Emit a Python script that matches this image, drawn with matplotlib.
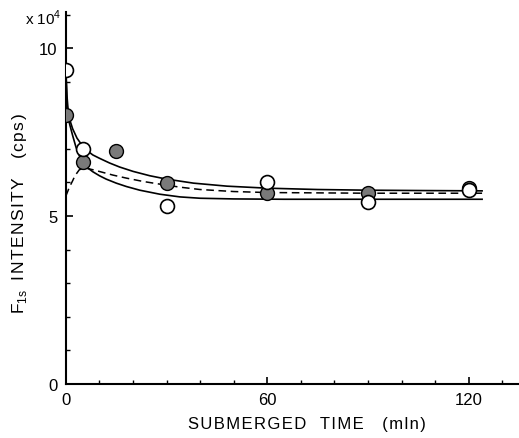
import matplotlib
matplotlib.use("Agg")
import matplotlib.pyplot as plt
from matplotlib.ticker import MultipleLocator

plt.rcParams['font.family'] = ['Liberation Sans', 'DejaVu Sans']

# measured points (x 10^4 cps)
open_t = [0, 5, 30, 60, 90, 120]
open_y = [9.35, 7.0, 5.3, 6.0, 5.42, 5.77]
filled_t = [0, 5, 15, 30, 60, 90, 120]
filled_y = [8.0, 6.6, 6.95, 5.98, 5.7, 5.68, 5.85]

# curves
upper_t = [0, 0.3, 0.7, 1.2, 2, 3.3, 4.5, 6.3, 8, 10, 13, 16, 20, 25, 30, 38, 48, 60, 75, 90, 105, 124]
upper_y = [9.3, 8.6, 8.1, 7.85, 7.6, 7.32, 7.15, 6.95, 6.82, 6.72, 6.58, 6.46, 6.33, 6.2, 6.1, 5.98, 5.89,
           5.83, 5.79, 5.77, 5.76, 5.75]
lower_t = [0, 0.3, 0.6, 1.2, 2, 3, 4, 5, 6.3, 8, 10, 12, 15, 18, 22, 28, 34, 40, 50, 65, 85, 105, 124]
lower_y = [9.3, 8.4, 7.95, 7.7, 7.4, 7.05, 6.8, 6.6, 6.45, 6.32, 6.2, 6.1, 5.98, 5.88, 5.77, 5.65,
           5.57, 5.53, 5.51, 5.5, 5.5, 5.5, 5.5]
dash_t = [0, 1, 2, 2.7, 4, 5.7, 8, 11, 14, 18, 23, 28, 34, 40, 50, 60, 75, 90, 105, 124]
dash_y = [5.6, 5.85, 6.05, 6.2, 6.38, 6.43, 6.38, 6.3, 6.22, 6.13, 6.03, 5.95, 5.86, 5.79, 5.73,
          5.7, 5.69, 5.68, 5.68, 5.68]


def track(s):
    # slightly wider letter spacing like the original lettering
    return '\u200a'.join(s)


fig = plt.figure(figsize=(5.19, 4.39), dpi=100)
ax = fig.add_axes([0.127, 0.123, 0.873, 0.847])

ax.plot(upper_t, upper_y, color='black', lw=1.2)
ax.plot(lower_t, lower_y, color='black', lw=1.2)
ax.plot(dash_t, dash_y, color='black', lw=1.1, linestyle=(0, (5, 3)))

ax.plot(filled_t, filled_y, 'o', ms=10, mfc='#7a7a7a', mec='black', mew=1.0, zorder=3)
ax.plot(open_t, open_y, 'o', ms=10, mfc='white', mec='black', mew=1.2, zorder=4)

ax.set_xlim(0, 135)
ax.set_ylim(0, 11.07)
ax.spines['top'].set_visible(False)
ax.spines['right'].set_visible(False)
ax.spines['left'].set_linewidth(1.5)
ax.spines['bottom'].set_linewidth(1.5)

ax.set_xticks([0, 60, 120])
ax.xaxis.set_minor_locator(MultipleLocator(10))
ax.set_yticks([0, 5, 10])
ax.yaxis.set_minor_locator(MultipleLocator(1))
ax.tick_params(which='major', direction='in', length=5, width=1.2, labelsize=12, pad=6)
ax.tick_params(which='minor', direction='in', length=3, width=1.0)

fig.text(307 / 519, 1 - 425 / 439, track('SUBMERGED') + '   ' + track('TIME') + '    ' + track('(mln)'),
         ha='center', va='center', fontsize=12)
fig.text(20 / 519, 1 - 214 / 439,
         r'F$_{\mathregular{1s}}$' + '  ' + track('INTENSITY') + '    ' + track('(cps)'),
         rotation=90, ha='center', va='center', fontsize=12.5)
fig.text(43 / 519, 1 - 18 / 439, r'x 10$^{\mathregular{4}}$', ha='center', va='center', fontsize=11)

fig.savefig('out.png', dpi=100)
